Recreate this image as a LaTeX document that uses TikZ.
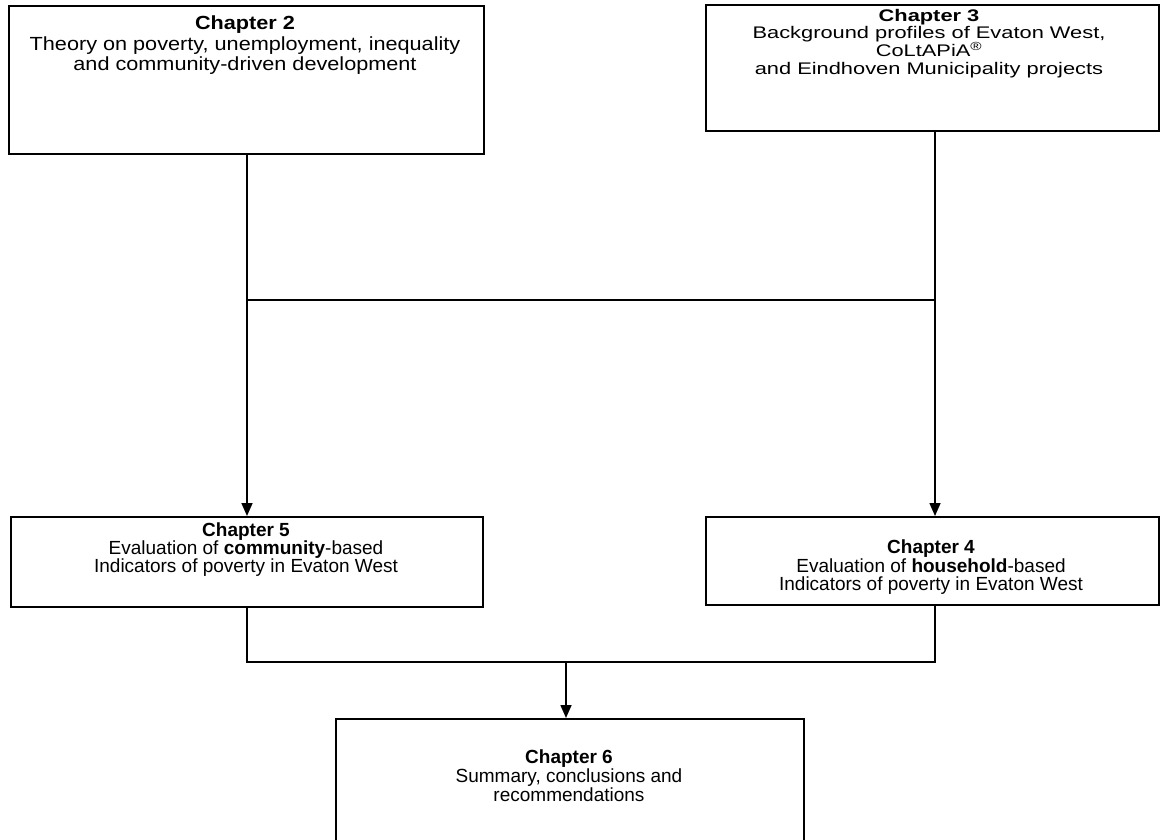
\documentclass[tikz,border=0pt]{standalone}
\usepackage{fontspec}
\setmainfont{Liberation Sans}
\newfontfamily\widesans[FakeStretch=1.14]{Liberation Sans}
\newfontfamily\widersans[FakeStretch=1.3]{Liberation Sans}
\usetikzlibrary{arrows.meta}
% fixed line spacing regardless of glyph heights
\newcommand\tightlines{\lineskiplimit=-30pt\relax}
\newcommand\boxfont[3]{#1\fontsize{#2}{#3}\selectfont\tightlines}
\begin{document}
\begin{tikzpicture}[x=1pt,y=-1pt,
  box/.style={draw,line width=1.6pt,rectangle,inner sep=0pt,anchor=north west},
  txt/.style={align=center,inner sep=0pt,anchor=north},
  link/.style={line width=1.6pt},
  arr/.style={line width=1.6pt,-{Triangle[width=11pt,length=13pt]}}]
\useasboundingbox (0,0) rectangle (1160,840);
% chapter boxes
\node[box,minimum width=475pt,minimum height=148pt] (ch2) at (8,5) {};
\node[box,minimum width=453pt,minimum height=126pt] (ch3) at (705,4) {};
\node[box,minimum width=472pt,minimum height=90pt] (ch5) at (10,516) {};
\node[box,minimum width=453pt,minimum height=88pt] (ch4) at (705,516) {};
\node[box,minimum width=468pt,minimum height=122pt] (ch6) at (335,718) {};
% chapter texts
\node[txt,font={\boxfont{\widesans}{19}{20.5}}] (ch2t) at (245,16)
  {\textbf{Chapter 2}\\Theory on poverty, unemployment, inequality\\and community-driven development};
\node[txt,font={\boxfont{\widersans}{16.8}{17.6}}] (ch3t) at (929,9)
  {\textbf{Chapter 3}\\Background profiles of Evaton West,\\CoLtAPiA\textsuperscript{\textregistered}\\and Eindhoven Municipality projects};
\node[txt,font={\boxfont{}{19}{18}}] (ch5t) at (246,523)
  {\textbf{Chapter 5}\\Evaluation of \textbf{community}-based\\Indicators of poverty in Evaton West};
\node[txt,font={\boxfont{}{19}{18.5}}] (ch4t) at (931,540)
  {\textbf{Chapter 4}\\Evaluation of \textbf{household}-based\\Indicators of poverty in Evaton West};
\node[txt,font={\boxfont{}{19}{19}}] (ch6t) at (569,750)
  {\textbf{Chapter 6}\\Summary, conclusions and\\recommendations};
% junction points
\coordinate (jl) at (247,300);
\coordinate (jr) at (935,300);
\coordinate (kl) at (247,662);
\coordinate (kr) at (935,662);
\coordinate (km) at (566,662);
% upper connectors
\draw[link] (ch2.south -| jl) -- (jl) -- (jr) -- (ch3.south -| jr);
\draw[arr] (jl) -- (ch5.north -| jl);
\draw[arr] (jr) -- (ch4.north -| jr);
% lower connectors
\draw[link] (ch5.south -| kl) -- (kl) -- (kr) -- (ch4.south -| kr);
\draw[arr] (km) -- (ch6.north -| km);
\end{tikzpicture}
\end{document}
